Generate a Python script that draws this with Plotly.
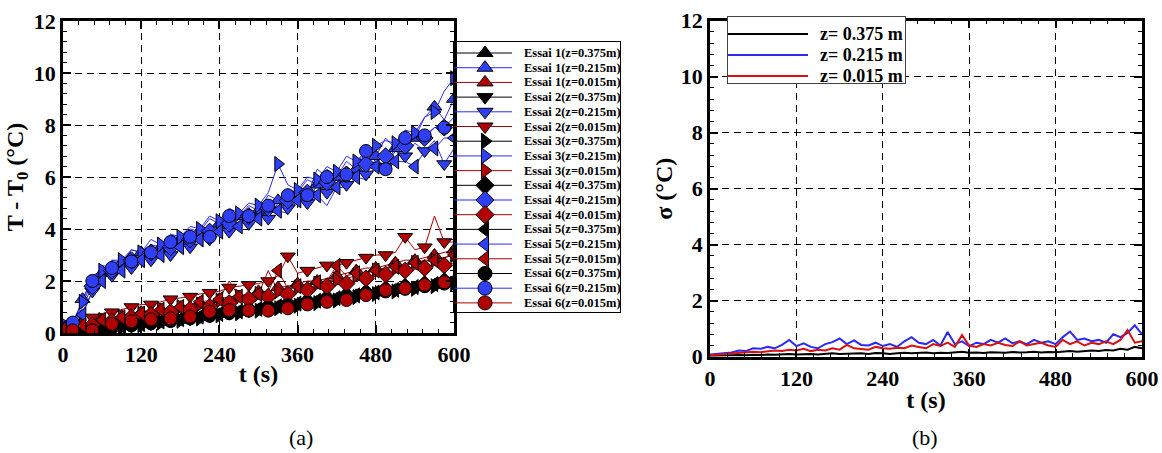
import plotly.graph_objects as go

# ---------------- data ----------------
t_a = [0, 15, 30, 45, 60, 75, 90, 105, 120, 135, 150, 165, 180, 195, 210, 225, 240, 255, 270, 285,
       300, 315, 330, 345, 360, 375, 390, 405, 420, 435, 450, 465, 480, 495, 510, 525, 540, 555, 570, 585, 600]

# z = 0.375 m (black)
k1 = [0.05,0.05,0.08,0.12,0.15,0.2,0.25,0.3,0.35,0.38,0.42,0.48,0.5,0.55,0.6,0.65,0.72,0.78,0.8,0.85,0.9,0.95,1.0,1.05,1.1,1.15,1.2,1.28,1.3,1.4,1.45,1.5,1.55,1.6,1.65,1.7,1.75,1.8,1.85,1.95,2.0]
k2 = [0.05,0.06,0.1,0.15,0.18,0.22,0.28,0.32,0.37,0.4,0.45,0.5,0.55,0.6,0.65,0.7,0.75,0.8,0.85,0.9,0.95,1.0,1.05,1.1,1.15,1.2,1.25,1.3,1.35,1.42,1.48,1.55,1.6,1.65,1.7,1.75,1.8,1.85,1.9,2.0,2.05]
k3 = [0.04,0.05,0.07,0.1,0.14,0.18,0.22,0.27,0.3,0.35,0.4,0.43,0.47,0.52,0.56,0.62,0.68,0.72,0.76,0.82,0.86,0.9,0.95,1.0,1.05,1.1,1.15,1.2,1.25,1.3,1.38,1.42,1.5,1.55,1.6,1.65,1.7,1.75,1.8,1.85,1.9]
k4 = [0.05,0.07,0.1,0.14,0.2,0.24,0.3,0.33,0.38,0.42,0.47,0.52,0.57,0.6,0.66,0.72,0.78,0.82,0.88,0.92,0.98,1.02,1.08,1.12,1.18,1.22,1.28,1.35,1.4,1.45,1.5,1.56,1.62,1.68,1.72,1.78,1.82,1.88,1.92,2.0,2.1]
k5 = [0.06,0.06,0.09,0.13,0.17,0.21,0.26,0.3,0.34,0.39,0.44,0.49,0.53,0.58,0.63,0.68,0.73,0.79,0.83,0.88,0.93,0.98,1.03,1.08,1.13,1.18,1.24,1.29,1.34,1.39,1.45,1.5,1.56,1.61,1.66,1.72,1.77,1.82,1.88,1.93,1.98]
k6 = [0.05,0.05,0.08,0.11,0.16,0.2,0.24,0.29,0.33,0.37,0.41,0.46,0.51,0.56,0.6,0.66,0.7,0.76,0.8,0.86,0.9,0.96,1.0,1.06,1.1,1.16,1.22,1.27,1.32,1.38,1.43,1.48,1.54,1.6,1.64,1.7,1.74,1.8,1.86,1.9,1.95]

# z = 0.215 m (blue)
b1 = [0.25,0.3,1.3,2.1,2.3,2.8,2.7,3.2,3.1,3.4,3.3,3.8,3.6,4.0,3.9,4.4,4.2,4.6,4.5,4.9,4.7,5.3,5.1,5.5,5.4,5.9,5.7,6.3,6.0,6.6,6.3,7.0,6.8,7.5,7.1,7.8,7.5,8.3,8.7,8.2,9.0]
b2 = [0.3,0.35,0.8,1.6,2.3,2.2,2.7,2.5,3.0,2.8,3.2,3.0,3.5,3.3,3.8,3.6,4.2,3.9,4.4,4.2,4.7,4.4,5.0,4.8,5.3,5.0,5.7,5.4,5.9,5.7,6.4,6.1,6.7,6.4,7.0,6.8,7.3,7.0,7.4,6.5,7.1]
b3 = [0.35,0.45,1.2,2.2,2.4,2.8,2.8,3.2,3.1,3.6,3.4,3.8,3.7,4.1,4.0,4.5,4.3,4.8,4.6,5.0,4.9,5.4,6.5,5.7,5.5,6.0,5.9,6.4,6.2,6.8,6.6,7.0,7.2,7.4,7.3,7.8,7.7,8.3,8.5,9.3,9.8]
b4 = [0.3,0.3,1.0,1.8,2.4,2.4,2.8,2.8,3.1,3.1,3.4,3.3,3.7,3.6,3.9,3.9,4.3,4.2,4.6,4.5,4.8,4.8,5.2,5.1,5.5,5.4,5.9,5.8,6.2,6.1,6.5,6.5,6.9,6.8,7.2,7.2,7.5,7.5,7.9,7.9,8.3]
b5 = [0.2,0.3,0.7,1.6,2.0,2.4,2.4,2.8,2.8,3.1,3.0,3.3,3.3,3.6,3.6,3.9,3.9,4.2,4.1,4.5,4.4,4.7,4.7,4.6,5.1,5.0,5.3,4.9,5.6,5.6,6.0,5.9,6.4,6.2,6.6,6.6,6.4,7.0,7.1,7.5,7.5]
b6 = [0.45,0.4,1.1,2.0,2.6,2.5,2.7,2.75,2.9,3.1,3.4,3.5,3.6,3.7,3.8,3.7,4.0,4.5,4.4,4.5,4.6,4.9,5.0,5.3,5.2,5.3,6.3,6.0,5.9,6.1,6.5,7.0,6.6,6.3,7.2,7.5,7.5,7.6,7.9,7.9,8.0]

# z = 0.015 m (red)
r1 = [0.1,0.15,0.25,0.45,0.5,0.6,0.65,0.75,0.8,0.85,0.9,0.95,1.0,1.1,1.15,1.2,1.3,1.4,1.4,1.5,1.6,1.6,1.75,1.8,1.9,2.0,2.0,2.1,2.2,2.3,2.4,2.5,2.5,2.6,2.7,2.8,2.8,2.9,3.0,3.1,3.2]
r2 = [0.1,0.2,0.7,0.6,0.75,0.8,0.9,1.0,1.1,1.1,1.2,1.3,1.35,1.4,1.5,1.55,1.6,1.75,1.8,1.85,1.9,2.0,2.2,2.95,2.3,2.4,2.5,2.6,2.6,2.7,2.8,2.9,3.0,3.0,3.1,3.7,3.2,3.3,4.5,3.5,3.5]
r3 = [0.1,0.12,0.3,0.4,0.5,0.55,0.6,0.7,0.75,0.8,0.9,0.9,1.0,1.05,1.1,1.2,1.25,1.3,1.4,1.45,1.5,2.4,1.6,1.7,1.75,1.8,1.9,2.0,2.05,2.1,2.2,2.3,2.4,2.5,2.5,2.6,2.7,2.75,2.8,2.9,3.0]
r4 = [0.1,0.1,0.2,0.3,0.4,0.45,0.5,0.6,0.65,0.7,0.75,0.8,0.85,0.9,1.0,1.0,1.1,1.15,1.2,1.3,1.3,1.4,1.45,1.5,1.6,1.65,1.7,1.8,1.85,1.9,2.0,2.1,2.2,2.25,2.3,2.4,2.45,2.5,2.6,2.6,2.7]
r5 = [0.15,0.2,0.3,0.4,0.5,0.55,0.6,0.7,0.75,0.8,0.9,0.95,1.0,1.1,1.2,1.25,1.3,2.0,1.4,1.45,1.5,1.6,2.4,1.7,1.8,1.9,1.95,2.0,2.58,2.2,2.3,2.35,2.4,2.5,2.55,2.6,2.7,2.8,2.8,2.9,3.0]
r6 = [0.05,0.1,0.1,0.1,0.25,0.35,0.43,0.45,0.5,0.52,0.54,0.56,0.6,0.63,0.7,0.82,0.85,0.88,0.86,0.87,0.86,0.86,0.85,0.95,1.04,1.1,1.12,1.2,1.35,1.27,1.35,1.46,1.59,1.65,1.72,1.72,1.8,1.85,1.9,1.95,2.0]

trial_names = ["Essai 1", "Essai 2", "Essai 3", "Essai 4", "Essai 5", "Essai 6"]
z_labels = ["0.375", "0.215", "0.015"]

# panel (b): standard deviation
t_b = [0,10,20,30,40,50,60,70,80,90,100,110,120,130,140,150,160,170,180,190,200,210,220,230,240,250,
       260,270,280,290,300,310,320,330,340,350,360,370,380,390,400,410,420,430,440,450,460,470,480,490,
       500,510,520,530,540,550,560,570,580,590,600]
sig_0375 = [0.03,0.04,0.05,0.05,0.06,0.05,0.07,0.06,0.08,0.07,0.08,0.1,0.08,0.09,0.1,0.08,0.1,0.12,0.1,0.11,0.1,0.12,0.1,0.13,0.12,0.1,0.12,0.14,0.12,0.13,0.15,0.12,0.14,0.13,0.15,0.18,0.14,0.15,0.13,0.16,0.15,0.14,0.17,0.15,0.16,0.18,0.15,0.17,0.16,0.18,0.2,0.18,0.2,0.22,0.2,0.24,0.22,0.28,0.25,0.35,0.3]
sig_0215 = [0.08,0.1,0.12,0.15,0.22,0.2,0.3,0.28,0.35,0.3,0.42,0.6,0.38,0.48,0.35,0.3,0.45,0.52,0.65,0.45,0.58,0.42,0.4,0.5,0.38,0.45,0.35,0.55,0.7,0.5,0.45,0.6,0.4,0.88,0.45,0.55,0.38,0.5,0.45,0.6,0.5,0.65,0.48,0.55,0.45,0.6,0.5,0.55,0.45,0.7,0.9,0.6,0.65,0.55,0.6,0.5,0.8,0.7,0.85,1.12,0.8]
sig_0015 = [0.05,0.07,0.1,0.1,0.12,0.15,0.18,0.16,0.2,0.22,0.2,0.25,0.22,0.28,0.2,0.25,0.22,0.3,0.25,0.42,0.3,0.28,0.25,0.35,0.3,0.28,0.32,0.3,0.4,0.35,0.3,0.45,0.38,0.5,0.35,0.77,0.4,0.35,0.45,0.4,0.5,0.42,0.38,0.55,0.4,0.45,0.5,0.4,0.35,0.6,0.45,0.55,0.4,0.5,0.45,0.55,0.45,0.6,0.95,0.5,0.55]
sig_labels = ["z= 0.375 m", "z= 0.215 m", "z= 0.015 m"]

x_ticks = [0, 120, 240, 360, 480, 600]
y_ticks = [0, 2, 4, 6, 8, 10, 12]

# ---------------- styles ----------------
series_a = [
    [k1, b1, r1], [k2, b2, r2], [k3, b3, r3],
    [k4, b4, r4], [k5, b5, r5], [k6, b6, r6],
]
symbols = ["triangle-up", "triangle-down", "triangle-right", "diamond", "triangle-left", "circle"]
line_cols = ["#000000", "#2b2bf2", "#a80000"]
fill_cols = ["#000000", "#2f3ff5", "#b00000"]
sig_cols = ["#000000", "#2a2af5", "#d81010"]

SERIF = "Liberation Serif, Times New Roman, serif"
MSIZE = 13
W, H = 1162, 453

fig = go.Figure()

# panel (a) data: lines first, then markers on top
for i, trial in enumerate(series_a):
    for j, vals in enumerate(trial):
        fig.add_trace(go.Scatter(
            x=t_a, y=vals, mode="lines",
            line=dict(color=line_cols[j], width=1),
            name=f"{trial_names[i]}(z={z_labels[j]}m)",
            showlegend=False, xaxis="x", yaxis="y",
        ))
for i, trial in enumerate(series_a):
    for j, vals in enumerate(trial):
        n = len(vals)
        sizes = [MSIZE if (k + i) % 2 == 0 else 0 for k in range(n)]
        lws = [1 if s else 0 for s in sizes]
        fig.add_trace(go.Scatter(
            x=t_a, y=vals, mode="markers",
            marker=dict(symbol=symbols[i], size=sizes, color=fill_cols[j], opacity=1,
                        line=dict(color="black", width=lws)),
            name=f"{trial_names[i]}(z={z_labels[j]}m)",
            showlegend=False, xaxis="x", yaxis="y",
        ))

annotations = []

# panel (a) legend (drawn in its own small axes x3/y3)
idx = 0
for i in range(6):
    for j in range(3):
        fig.add_trace(go.Scatter(
            x=[0, 58], y=[idx, idx], mode="lines",
            line=dict(color=line_cols[j], width=1),
            showlegend=False, hoverinfo="skip", xaxis="x3", yaxis="y3"))
        fig.add_trace(go.Scatter(
            x=[31], y=[idx], mode="markers",
            marker=dict(symbol=symbols[i], size=MSIZE + 1, color=fill_cols[j], opacity=1,
                        line=dict(color="black", width=1)),
            showlegend=False, hoverinfo="skip", xaxis="x3", yaxis="y3"))
        annotations.append(dict(
            x=68, y=idx, xref="x3", yref="y3", xanchor="left", yanchor="middle",
            text=f"{trial_names[i]}(z={z_labels[j]}m)", showarrow=False,
            font=dict(family=SERIF, size=12.5, color="black", weight="bold")))
        idx += 1

# panel (b) data
for vals, lab, col in zip([sig_0375, sig_0215, sig_0015], sig_labels, sig_cols):
    fig.add_trace(go.Scatter(
        x=t_b, y=vals, mode="lines", line=dict(color=col, width=2),
        name=lab, showlegend=False, xaxis="x2", yaxis="y2"))

# panel (b) legend (axes x4/y4)
for j, (lab, col) in enumerate(zip(sig_labels, sig_cols)):
    fig.add_trace(go.Scatter(
        x=[0, 80], y=[j, j], mode="lines", line=dict(color=col, width=2),
        showlegend=False, hoverinfo="skip", xaxis="x4", yaxis="y4"))
    annotations.append(dict(
        x=90, y=j, xref="x4", yref="y4", xanchor="left", yanchor="middle",
        text=lab, showarrow=False,
        font=dict(family=SERIF, size=18, color="black", weight="bold")))

tickfont = dict(family=SERIF, size=22, color="black", weight="bold")
titlefont = dict(family=SERIF, size=24, color="black", weight="bold")
common = dict(
    showline=True, linecolor="black", linewidth=2.5, mirror="allticks",
    ticks="inside", ticklen=8, tickwidth=1.5, tickcolor="black",
    showgrid=True, gridcolor="black", griddash="7px,5px", gridwidth=1,
    zeroline=False, tickfont=tickfont,
)
xcommon = dict(common, range=[0, 600], tickvals=x_ticks,
               minor=dict(dtick=24, tick0=0, ticks="inside", ticklen=4, tickwidth=1,
                          tickcolor="black", showgrid=False))
ycommon = dict(common, range=[0, 12], tickvals=y_ticks,
               minor=dict(dtick=0.4, tick0=0, ticks="inside", ticklen=4, tickwidth=1,
                          tickcolor="black", showgrid=False))
boxaxis = dict(showline=True, mirror=True, linecolor="black", linewidth=1,
               showgrid=False, zeroline=False, showticklabels=False, ticks="",
               fixedrange=True)

fig.update_layout(
    width=W, height=H, margin=dict(l=0, r=0, t=0, b=0, autoexpand=False),
    paper_bgcolor="white", plot_bgcolor="white",
    xaxis=dict(xcommon, domain=[63 / W, 454 / W], anchor="y",
               title=dict(text="t (s)", font=titlefont, standoff=0)),
    yaxis=dict(ycommon, domain=[1 - 333 / H, 1 - 21 / H], anchor="x",
               title=dict(text="T - T<sub>0</sub> (°C)", font=titlefont, standoff=4)),
    xaxis2=dict(xcommon, domain=[710 / W, 1142 / W], anchor="y2",
                title=dict(text="t (s)", font=titlefont, standoff=2)),
    yaxis2=dict(ycommon, domain=[1 - 356.7 / H, 1 - 20.7 / H], anchor="x2",
                title=dict(text="σ (°C)", font=titlefont, standoff=2)),
    xaxis3=dict(boxaxis, domain=[454 / W, 620 / W], anchor="y3", range=[0, 166]),
    yaxis3=dict(boxaxis, domain=[1 - 312 / H, 1 - 42 / H], anchor="x3", range=[17.62, -0.75]),
    xaxis4=dict(boxaxis, domain=[728 / W, 905 / W], anchor="y4", range=[0, 177],
                linecolor="#444444"),
    yaxis4=dict(boxaxis, domain=[1 - 83 / H, 1 - 17 / H], anchor="x4", range=[2.33, -0.81],
                linecolor="#444444"),
    showlegend=False,
    annotations=annotations + [
        dict(x=301 / W, y=1 - 437 / H, xref="paper", yref="paper", text="(a)",
             xanchor="center", yanchor="middle",
             showarrow=False, font=dict(family=SERIF, size=22, color="black")),
        dict(x=925 / W, y=1 - 437 / H, xref="paper", yref="paper", text="(b)",
             xanchor="center", yanchor="middle",
             showarrow=False, font=dict(family=SERIF, size=22, color="black")),
    ],
)

fig.write_html("out.html", config={"displayModeBar": False},
               post_script="document.body.style.margin='0';document.body.style.overflow='hidden';")
